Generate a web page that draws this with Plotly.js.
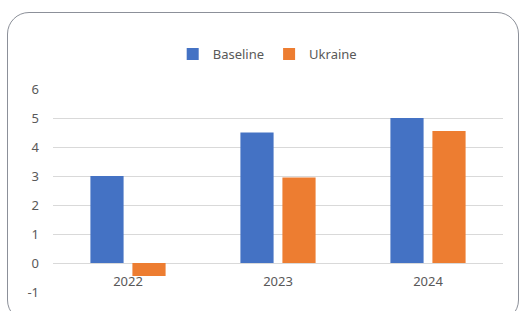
<!DOCTYPE html>
<html>
<head>
<meta charset="utf-8">
<script src="https://cdn.plot.ly/plotly-3.0.1.min.js"></script>
<style>
  html, body { margin: 0; padding: 0; background: #ffffff; }
  #wrap { position: relative; width: 522px; height: 311px; overflow: hidden; }
  #frame { position: absolute; left: 7px; top: 12px; width: 512px; height: 310px;
           border: 1px solid #8c9099; border-radius: 22px; box-sizing: border-box; }
  #chart { position: absolute; left: 0; top: 0; width: 522px; height: 311px; }
</style>
</head>
<body>
<div id="wrap">
  <div id="frame"></div>
  <div id="chart"></div>
</div>
<script>
const categories = ["2022", "2023", "2024"];
const baseline = [3.0, 4.5, 5.0];
const ukraine = [-0.45, 2.95, 4.55];
const seriesNames = ["Baseline", "Ukraine"];
const yTicks = [-1, 0, 1, 2, 3, 4, 5, 6];

const yMin = -1, yMax = 6;
const font = { family: "Noto Sans, Open Sans, sans-serif", size: 13, color: "#595959" };

const data = [
  { type: "bar", name: seriesNames[0], x: categories, y: baseline,
    marker: { color: "#4472C4" }, hoverinfo: "skip" },
  { type: "bar", name: seriesNames[1], x: categories, y: ukraine,
    marker: { color: "#ED7D31" }, hoverinfo: "skip" }
];

const layout = {
  width: 522, height: 311,
  margin: { l: 53, r: 19, t: 89, b: 19, pad: 0 },
  paper_bgcolor: "rgba(0,0,0,0)",
  plot_bgcolor: "rgba(0,0,0,0)",
  font: font,
  barmode: "group",
  bargap: 0.44,
  bargroupgap: 0.21,
  showlegend: true,
  legend: { orientation: "h", x: 0.476, xanchor: "center", y: 1.172, yanchor: "middle",
            yref: "paper", font: font, itemwidth: 30, traceorder: "normal",
            bgcolor: "rgba(0,0,0,0)" },
  xaxis: {
    type: "category",
    anchor: "free",
    position: (0 - yMin) / (yMax - yMin),
    showgrid: false, zeroline: false, showline: false,
    ticks: "", ticklabelstandoff: 9,
    tickfont: font
  },
  yaxis: {
    range: [yMin, yMax],
    tickvals: yTicks,
    ticktext: yTicks.map(String),
    showgrid: true, gridcolor: "#d9d9d9", gridwidth: 1,
    zeroline: true, zerolinecolor: "#d9d9d9", zerolinewidth: 1,
    showline: false, ticks: "", ticklabelstandoff: 13,
    tickfont: font
  }
};

Plotly.newPlot("chart", data, layout, { staticPlot: true, displayModeBar: false });
</script>
</body>
</html>
